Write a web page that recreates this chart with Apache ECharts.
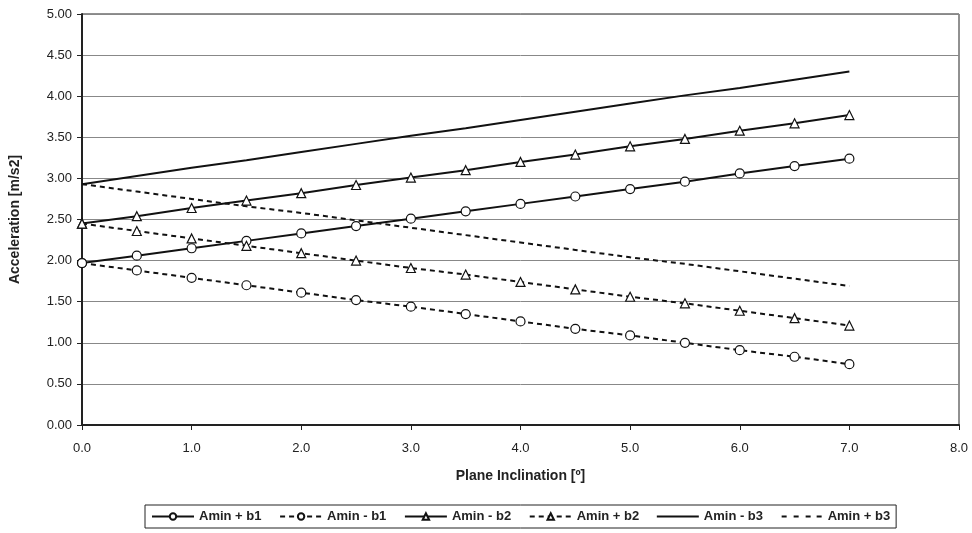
<!DOCTYPE html>
<html>
<head>
<meta charset="utf-8">
<script src="https://cdn.jsdelivr.net/npm/echarts@6/dist/echarts.min.js"></script>
<style>
  html, body { margin: 0; padding: 0; background: #fff; }
  #chart { width: 972px; height: 533px; }
</style>
</head>
<body>
<div id="chart"></div>
<script>
// Plane inclination (degrees)
const inclination = [0, 0.5, 1, 1.5, 2, 2.5, 3, 3.5, 4, 4.5, 5, 5.5, 6, 6.5, 7];

// Acceleration [m/s2] for each bound
const aminPlusB1  = [1.97, 2.06, 2.15, 2.24, 2.33, 2.42, 2.51, 2.60, 2.69, 2.78, 2.87, 2.96, 3.06, 3.15, 3.24];
const aminMinusB1 = [1.97, 1.88, 1.79, 1.70, 1.61, 1.52, 1.44, 1.35, 1.26, 1.17, 1.09, 1.00, 0.91, 0.83, 0.74];
const aminMinusB2 = [2.45, 2.54, 2.64, 2.73, 2.82, 2.92, 3.01, 3.10, 3.20, 3.29, 3.39, 3.48, 3.58, 3.67, 3.77];
const aminPlusB2  = [2.45, 2.36, 2.27, 2.18, 2.09, 2.00, 1.91, 1.83, 1.74, 1.65, 1.56, 1.48, 1.39, 1.30, 1.21];
const aminMinusB3 = [2.93, 3.03, 3.13, 3.22, 3.32, 3.42, 3.52, 3.61, 3.71, 3.81, 3.91, 4.01, 4.10, 4.20, 4.30];
const aminPlusB3  = [2.93, 2.84, 2.75, 2.66, 2.58, 2.49, 2.40, 2.31, 2.22, 2.13, 2.04, 1.96, 1.87, 1.78, 1.69];

const seriesNames = ['Amin + b1', 'Amin - b1', 'Amin - b2', 'Amin + b2', 'Amin - b3', 'Amin + b3'];

const FONT = '"Liberation Sans", Arial, sans-serif';
const dash = [5, 4];

// Legend glyphs for the marker-less series: a plain bar and a dashed bar.
// Two tiny corner specks pin the path box to 42x8 so the bar keeps its thickness.
const corners = 'M0,0h0.01v0.01h-0.01z M41.99,7.99h0.01v0.01h-0.01z ';
const solidIcon = 'path://' + corners + 'M0,3h42v2h-42z';
const dashedIcon = 'path://' + corners +
  'M1,3h5v2h-5z M13,3h5v2h-5z M25,3h5v2h-5z M36,3h5v2h-5z';

function pairs(ys) {
  return inclination.map((x, i) => [x, ys[i]]);
}

function makeSeries(name, ys, symbol, dashed) {
  return {
    name: name,
    type: 'line',
    data: pairs(ys),
    symbol: symbol,
    symbolSize: 9,
    showSymbol: symbol !== 'none',
    itemStyle: { color: '#fff', borderColor: '#111', borderWidth: 1.2 },
    lineStyle: { color: '#111', width: 2, type: dashed ? dash : 'solid' },
    emphasis: { disabled: true },
    animation: false
  };
}

const legendData = seriesNames.map(n => {
  if (n === 'Amin - b3') return { name: n, icon: solidIcon, itemStyle: { color: '#111', borderWidth: 0 } };
  if (n === 'Amin + b3') return { name: n, icon: dashedIcon, itemStyle: { color: '#111', borderWidth: 0 } };
  return { name: n };
});

const chart = echarts.init(document.getElementById('chart'), null, { renderer: 'canvas' });

chart.setOption({
  backgroundColor: '#fff',
  animation: false,
  grid: {
    left: 82, right: 13, top: 14, bottom: 108,
    show: true, borderColor: '#222', borderWidth: 1, backgroundColor: 'transparent'
  },
  xAxis: {
    type: 'value',
    min: 0, max: 8, interval: 1,
    name: 'Plane Inclination [º]',
    nameLocation: 'middle',
    nameGap: 44,
    nameTextStyle: { fontFamily: FONT, fontSize: 14, fontWeight: 'bold', color: '#222' },
    axisLine: { show: true, onZero: false, lineStyle: { color: '#222', width: 2 } },
    axisTick: { show: true, length: 5, lineStyle: { color: '#222', width: 1 } },
    axisLabel: { fontFamily: FONT, fontSize: 13, color: '#222', margin: 17, formatter: v => v.toFixed(1) },
    splitLine: { show: false }
  },
  yAxis: {
    type: 'value',
    min: 0, max: 5, interval: 0.5,
    name: 'Acceleration [m/s2]',
    nameLocation: 'middle',
    nameGap: 60,
    nameRotate: 90,
    nameTextStyle: { fontFamily: FONT, fontSize: 14, fontWeight: 'bold', color: '#222' },
    axisLine: { show: true, lineStyle: { color: '#222', width: 2 } },
    axisTick: { show: true, length: 5, lineStyle: { color: '#222', width: 1 } },
    axisLabel: { fontFamily: FONT, fontSize: 13, color: '#222', margin: 10, formatter: v => v.toFixed(2) },
    splitLine: { show: true, lineStyle: { color: '#888', width: 1 } }
  },
  legend: {
    data: legendData,
    bottom: 5,
    left: 145,
    orient: 'horizontal',
    itemWidth: 42,
    itemHeight: 8,
    itemGap: 17.6,
    padding: [5, 6],
    borderColor: '#222',
    borderWidth: 1,
    textStyle: { fontFamily: FONT, fontSize: 13, fontWeight: 'bold', color: '#222' }
  },
  series: [
    makeSeries('Amin + b1', aminPlusB1, 'circle', false),
    makeSeries('Amin - b1', aminMinusB1, 'circle', true),
    makeSeries('Amin - b2', aminMinusB2, 'triangle', false),
    makeSeries('Amin + b2', aminPlusB2, 'triangle', true),
    makeSeries('Amin - b3', aminMinusB3, 'none', false),
    makeSeries('Amin + b3', aminPlusB3, 'none', true)
  ]
});
</script>
</body>
</html>
